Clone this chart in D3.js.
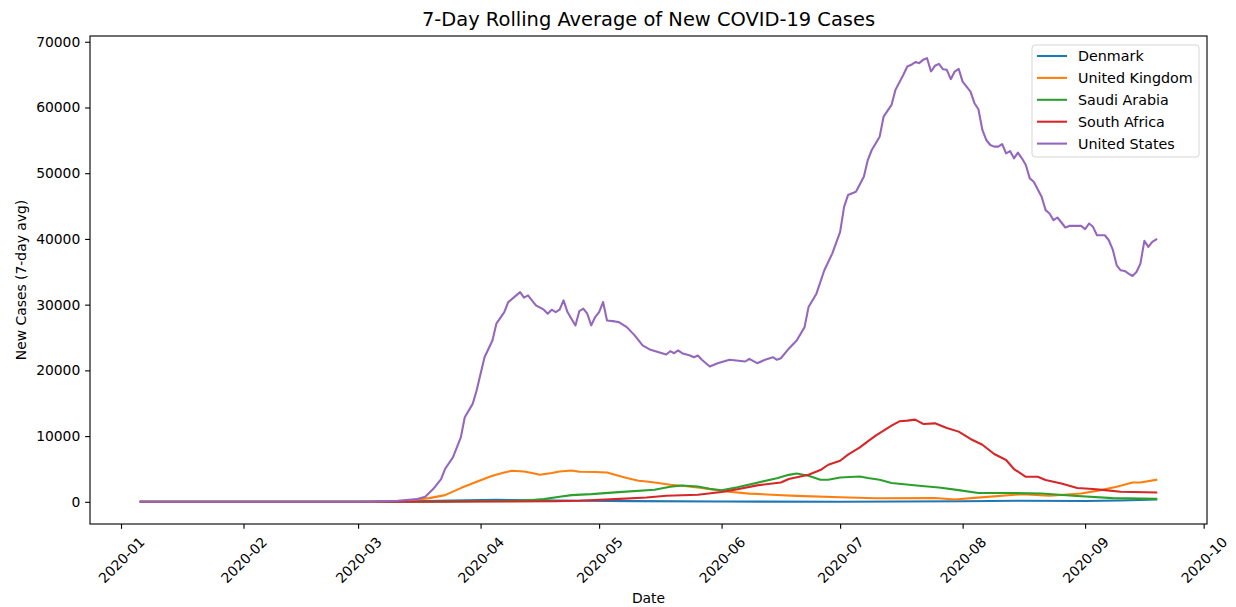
<!DOCTYPE html>
<html>
<head>
<meta charset="utf-8">
<script src="https://cdn.jsdelivr.net/npm/d3@7"></script>
<style>
  html, body { margin: 0; padding: 0; background: #fff; }
  svg { display: block; font-family: "DejaVu Sans", sans-serif; }
</style>
</head>
<body>
<svg id="chart" width="1236" height="607"></svg>
<script>
// 7-day rolling average of new daily cases, per country
const countries = ["Denmark", "United Kingdom", "Saudi Arabia", "South Africa", "United States"];
const lineColors = ["#1f77b4", "#ff7f0e", "#2ca02c", "#d62728", "#9467bd"];

const denmarkDates = ["2020-01-06","2020-03-08","2020-03-15","2020-03-25","2020-04-05","2020-04-20","2020-05-10","2020-06-01","2020-07-01","2020-08-01","2020-08-15","2020-09-01","2020-09-10","2020-09-19"];
const denmarkCases = [0,0,80,200,300,200,100,40,20,80,150,120,200,350];

const ukDates = ["2020-01-06","2020-03-01","2020-03-12","2020-03-19","2020-03-23","2020-03-27","2020-03-31","2020-04-04","2020-04-07","2020-04-09","2020-04-12","2020-04-14","2020-04-16","2020-04-19","2020-04-21","2020-04-24","2020-04-26","2020-04-30","2020-05-03","2020-05-05","2020-05-08","2020-05-11","2020-05-13","2020-05-16","2020-05-19","2020-05-22","2020-05-27","2020-06-01","2020-06-08","2020-06-15","2020-06-20","2020-07-01","2020-07-10","2020-07-25","2020-07-30","2020-08-04","2020-08-16","2020-08-23","2020-08-31","2020-09-05","2020-09-09","2020-09-13","2020-09-15","2020-09-19"];
const ukCases = [0,20,100,560,1020,2090,3050,3970,4470,4730,4620,4380,4120,4380,4620,4770,4575,4530,4470,4120,3610,3200,3100,2850,2590,2440,2090,1650,1250,1050,900,700,550,580,350,600,1170,915,1270,1780,2290,2940,2940,3350];

const saudiDates = ["2020-01-06","2020-03-01","2020-03-15","2020-04-01","2020-04-10","2020-04-14","2020-04-17","2020-04-21","2020-04-24","2020-04-29","2020-05-06","2020-05-15","2020-05-19","2020-05-22","2020-05-26","2020-05-29","2020-06-01","2020-06-05","2020-06-10","2020-06-15","2020-06-18","2020-06-20","2020-06-23","2020-06-26","2020-06-28","2020-07-01","2020-07-06","2020-07-08","2020-07-11","2020-07-14","2020-07-21","2020-07-26","2020-07-31","2020-08-05","2020-08-14","2020-08-21","2020-08-29","2020-09-08","2020-09-19"];
const saudiCases = [0,0,20,80,150,260,410,760,1020,1170,1480,1830,2290,2490,2330,2000,1750,2200,2900,3600,4100,4320,3970,3350,3350,3710,3860,3610,3350,2850,2440,2180,1780,1330,1330,1270,915,560,450];

const southAfricaDates = ["2020-01-06","2020-03-05","2020-03-20","2020-04-01","2020-04-20","2020-04-26","2020-05-05","2020-05-13","2020-05-18","2020-05-26","2020-06-01","2020-06-05","2020-06-10","2020-06-16","2020-06-18","2020-06-23","2020-06-26","2020-06-28","2020-07-01","2020-07-03","2020-07-06","2020-07-08","2020-07-10","2020-07-14","2020-07-16","2020-07-18","2020-07-20","2020-07-22","2020-07-25","2020-07-28","2020-07-31","2020-08-03","2020-08-06","2020-08-09","2020-08-12","2020-08-14","2020-08-17","2020-08-20","2020-08-22","2020-08-26","2020-08-30","2020-09-03","2020-09-06","2020-09-10","2020-09-19"];
const southAfricaCases = [0,0,20,40,80,150,410,650,915,1070,1500,1900,2500,2940,3460,4120,4830,5640,6250,7170,8280,9200,10070,11590,12250,12350,12510,11850,11940,11240,10680,9560,8690,7270,6360,4990,3810,3810,3310,2790,2090,1940,1780,1525,1420];

const usDates = ["2020-01-06","2020-03-01","2020-03-05","2020-03-11","2020-03-16","2020-03-18","2020-03-20","2020-03-22","2020-03-23","2020-03-25","2020-03-27","2020-03-28","2020-03-30","2020-03-31","2020-04-01","2020-04-02","2020-04-04","2020-04-05","2020-04-07","2020-04-08","2020-04-11","2020-04-12","2020-04-13","2020-04-14","2020-04-15","2020-04-17","2020-04-18","2020-04-19","2020-04-20","2020-04-21","2020-04-22","2020-04-23","2020-04-24","2020-04-25","2020-04-26","2020-04-27","2020-04-28","2020-04-29","2020-04-30","2020-05-01","2020-05-02","2020-05-03","2020-05-05","2020-05-06","2020-05-08","2020-05-10","2020-05-12","2020-05-14","2020-05-18","2020-05-19","2020-05-20","2020-05-21","2020-05-22","2020-05-24","2020-05-25","2020-05-26","2020-05-27","2020-05-29","2020-05-31","2020-06-03","2020-06-07","2020-06-08","2020-06-10","2020-06-12","2020-06-14","2020-06-15","2020-06-16","2020-06-18","2020-06-20","2020-06-22","2020-06-23","2020-06-25","2020-06-27","2020-06-29","2020-07-01","2020-07-02","2020-07-03","2020-07-05","2020-07-07","2020-07-08","2020-07-09","2020-07-11","2020-07-12","2020-07-14","2020-07-15","2020-07-17","2020-07-18","2020-07-19","2020-07-20","2020-07-21","2020-07-22","2020-07-23","2020-07-24","2020-07-25","2020-07-26","2020-07-27","2020-07-28","2020-07-29","2020-07-30","2020-07-31","2020-08-01","2020-08-03","2020-08-04","2020-08-05","2020-08-06","2020-08-07","2020-08-08","2020-08-09","2020-08-10","2020-08-11","2020-08-12","2020-08-13","2020-08-14","2020-08-15","2020-08-16","2020-08-17","2020-08-18","2020-08-19","2020-08-21","2020-08-22","2020-08-23","2020-08-24","2020-08-25","2020-08-27","2020-08-28","2020-08-31","2020-09-01","2020-09-02","2020-09-03","2020-09-04","2020-09-06","2020-09-07","2020-09-08","2020-09-09","2020-09-10","2020-09-11","2020-09-12","2020-09-13","2020-09-14","2020-09-15","2020-09-16","2020-09-17","2020-09-18","2020-09-19"];
const usCases = [0,10,30,150,410,760,1940,3460,4990,6760,9810,12860,14900,16930,19470,22000,24550,27100,28870,30390,31900,31060,31400,30650,29900,29230,28620,29230,28870,29230,30650,28870,27860,26840,29020,29390,28620,26840,28110,28870,30390,27600,27450,27340,26580,25320,23790,23130,22420,22920,22610,23030,22610,22265,22000,22265,21610,20590,21090,21610,21350,21760,21090,21610,22000,21610,21850,23300,24550,26580,29630,31670,35230,37770,41070,44880,46670,47170,49460,52000,53530,55560,58600,60390,62680,64970,66230,66490,66900,66750,67250,67500,65470,66340,66640,65830,65730,64310,65470,65880,63940,62420,60650,59730,56580,55050,54290,54040,54040,54440,53020,53370,52260,53120,52260,51240,49210,48700,46410,44380,43870,42850,43260,41740,41980,41980,41480,42350,41840,40560,40560,39800,38380,35990,35230,35120,34730,34360,34970,36250,39700,38780,39540,39910];

const yTickValues = [0, 10000, 20000, 30000, 40000, 50000, 60000, 70000];

const seriesDates = [denmarkDates, ukDates, saudiDates, southAfricaDates, usDates];
const seriesCases = [denmarkCases, ukCases, saudiCases, southAfricaCases, usCases];

const parseDate = d3.timeParse("%Y-%m-%d");
const series = countries.map((name, i) => ({
  name,
  color: lineColors[i],
  points: seriesDates[i].map((d, j) => ({ date: parseDate(d), value: seriesCases[i][j] }))
}));

// Plot frame
const frame = { left: 90, right: 1207, top: 36, bottom: 524 };
const px = v => v * 100 / 72; // points to pixels

const svg = d3.select("#chart");

// Scales with 5% padding around the data extent
const allPoints = series.flatMap(s => s.points);
const [dMin, dMax] = d3.extent(allPoints, p => p.date);
const dSpan = dMax - dMin;
const x = d3.scaleTime()
  .domain([new Date(+dMin - 0.05 * dSpan), new Date(+dMax + 0.05 * dSpan)])
  .range([frame.left, frame.right]);

const [vMin, vMax] = d3.extent(allPoints, p => p.value);
const vSpan = vMax - vMin;
const y = d3.scaleLinear()
  .domain([vMin - 0.05 * vSpan, vMax + 0.05 * vSpan])
  .range([frame.bottom, frame.top]);

const tickLen = px(3.5), tickPad = px(3.5), fontSize = px(10);

// X axis
const monthTicks = d3.timeMonth.range(new Date(2020, 0, 1), new Date(2020, 9, 2));
const xAxis = svg.append("g")
  .attr("transform", `translate(0,${frame.bottom})`)
  .call(d3.axisBottom(x).tickValues(monthTicks).tickFormat(d3.timeFormat("%Y-%m"))
    .tickSize(tickLen).tickSizeOuter(0).tickPadding(tickPad));
xAxis.select(".domain").remove();
xAxis.selectAll(".tick line").attr("stroke", "#000").attr("stroke-width", px(0.8));
xAxis.selectAll(".tick text")
  .attr("fill", "#000")
  .style("font-size", fontSize + "px")
  .style("font-family", "DejaVu Sans")
  .attr("y", null)
  .attr("dy", null)
  .attr("text-anchor", "middle")
  .attr("dominant-baseline", "central")
  .attr("transform", function () {
    const w = this.getComputedTextLength();
    const h = fontSize * 1.16;
    const box = (w + h) * Math.SQRT1_2;
    return `translate(0,${tickLen + tickPad + box / 2}) rotate(-45)`;
  });

// Y axis
const yAxis = svg.append("g")
  .attr("transform", `translate(${frame.left},0)`)
  .call(d3.axisLeft(y).tickValues(yTickValues).tickFormat(d3.format("d"))
    .tickSize(tickLen).tickSizeOuter(0).tickPadding(tickPad));
yAxis.select(".domain").remove();
yAxis.selectAll(".tick line").attr("stroke", "#000").attr("stroke-width", px(0.8));
yAxis.selectAll(".tick text")
  .attr("fill", "#000")
  .style("font-size", fontSize + "px")
  .style("font-family", "DejaVu Sans");

// Lines
const line = d3.line().x(p => x(p.date)).y(p => y(p.value));
const plot = svg.append("g");
series.forEach(s => {
  plot.append("path")
    .datum(s.points)
    .attr("fill", "none")
    .attr("stroke", s.color)
    .attr("stroke-width", px(1.5))
    .attr("stroke-linejoin", "round")
    .attr("stroke-linecap", "square")
    .attr("d", line);
});

// Frame
svg.append("rect")
  .attr("x", frame.left).attr("y", frame.top)
  .attr("width", frame.right - frame.left).attr("height", frame.bottom - frame.top)
  .attr("fill", "none").attr("stroke", "#000").attr("stroke-width", px(0.8));

// Title and axis labels
const midX = (frame.left + frame.right) / 2;
svg.append("text")
  .attr("x", midX).attr("y", 26)
  .attr("text-anchor", "middle")
  .style("font-size", px(14) + "px")
  .text("7-Day Rolling Average of New COVID-19 Cases");

svg.append("text")
  .attr("x", midX).attr("y", 603)
  .attr("text-anchor", "middle")
  .style("font-size", fontSize + "px")
  .text("Date");

svg.append("text")
  .attr("transform", `translate(26,${(frame.top + frame.bottom) / 2}) rotate(-90)`)
  .attr("text-anchor", "middle")
  .style("font-size", fontSize + "px")
  .text("New Cases (7-day avg)");

// Legend
const legend = svg.append("g");
legend.append("rect")
  .attr("x", 1032).attr("y", 45)
  .attr("width", 167).attr("height", 112)
  .attr("rx", 3)
  .attr("fill", "#fff").attr("fill-opacity", 0.8)
  .attr("stroke", "#d6d6d6").attr("stroke-width", 1);
series.forEach((s, i) => {
  const cy = 56 + i * 21.9;
  legend.append("line")
    .attr("x1", 1037).attr("x2", 1067)
    .attr("y1", cy).attr("y2", cy)
    .attr("stroke", s.color).attr("stroke-width", px(1.5));
  legend.append("text")
    .attr("x", 1078).attr("y", cy)
    .attr("dy", "0.36em")
    .style("font-size", (fontSize * 1.03) + "px")
    .text(s.name);
});
</script>
</body>
</html>
